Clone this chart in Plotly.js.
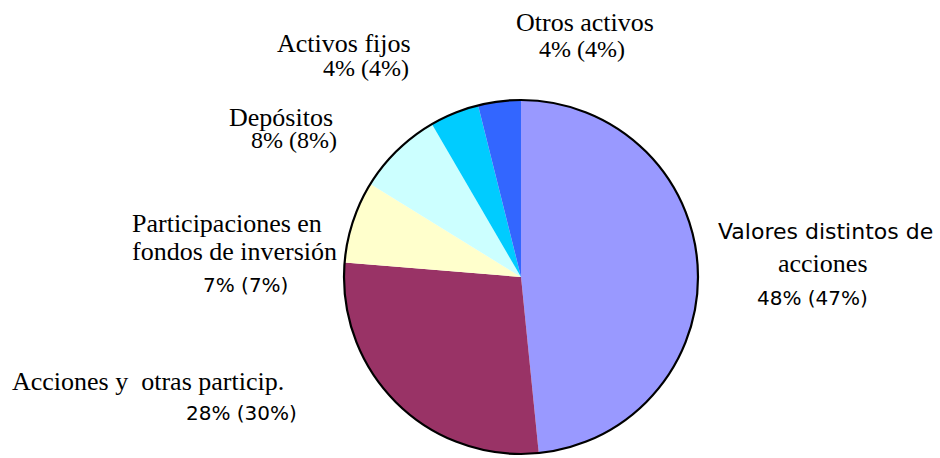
<!DOCTYPE html>
<html>
<head>
<meta charset="utf-8">
<script src="https://cdn.plot.ly/plotly-3.0.1.min.js"></script>
<style>html,body{margin:0;padding:0;background:#fff;}#chart{width:940px;height:458px;}</style>
</head>
<body>
<div id="chart"></div>
<script>
// Data (clockwise from 12 o'clock)
var categories = ["Valores distintos de acciones", "Acciones y  otras particip.", "Participaciones en fondos de inversión", "Depósitos", "Activos fijos", "Otros activos"];
var values = [48.4, 27.9, 7.5, 7.8, 4.5, 3.9];
var shareLabels = ["48% (47%)", "28% (30%)", "7% (7%)", "8% (8%)", "4% (4%)", "4% (4%)"];
var colors = ["#9999FF", "#993366", "#FFFFCC", "#CCFFFF", "#00CCFF", "#3366FF"];

var W = 940, H = 458;
var cx = 521, cy = 277, R = 177;

var trace = {
  type: "pie",
  labels: categories,
  values: values,
  sort: false,
  direction: "clockwise",
  rotation: 0,
  textinfo: "none",
  hoverinfo: "label+percent",
  marker: {colors: colors, line: {width: 0}},
  domain: {x: [(cx - R) / W, (cx + R) / W], y: [(H - cy - R) / H, (H - cy + R) / H]},
  showlegend: false
};

var SERIF = "Liberation Serif";
var SANS = "DejaVu Sans";
function ann(text, px, py, xa, fam, size) {
  return {
    text: text, xref: "paper", yref: "paper",
    x: px / W, y: 1 - py / H, xanchor: xa, yanchor: "middle",
    showarrow: false, borderpad: 0, borderwidth: 0,
    font: {family: fam, size: size, color: "#000000"}
  };
}

var annotations = [
  ann("Otros activos", 585, 23, "center", SERIF, 26),
  ann(shareLabels[5], 582, 49, "center", SERIF, 24),
  ann("Activos fijos", 411, 43, "right", SERIF, 26),
  ann(shareLabels[4], 409, 68, "right", SERIF, 24),
  ann(categories[3], 333, 117, "right", SERIF, 26),
  ann(shareLabels[3], 337, 140, "right", SERIF, 24),
  ann("Participaciones en", 132, 223, "left", SERIF, 26),
  ann("fondos de inversión", 132, 252, "left", SERIF, 26),
  ann(shareLabels[2], 245.5, 285, "center", SANS, 20),
  ann("Acciones y\u00a0 otras particip.", 12, 381, "left", SERIF, 26),
  ann(shareLabels[1], 241.5, 413, "center", SANS, 20),
  ann("Valores distintos de", 825, 231.5, "center", SANS, 22),
  ann("acciones", 822.5, 263, "center", SERIF, 26),
  ann(shareLabels[0], 812.5, 298, "center", SANS, 20)
];

var layout = {
  width: W, height: H,
  margin: {l: 0, r: 0, t: 0, b: 0},
  paper_bgcolor: "#fff",
  plot_bgcolor: "#fff",
  showlegend: false,
  font: {family: SERIF},
  annotations: annotations,
  shapes: [{
    type: "circle", xref: "paper", yref: "paper",
    x0: (cx - R) / W, x1: (cx + R) / W,
    y0: (H - cy - R) / H, y1: (H - cy + R) / H,
    line: {color: "#000", width: 2.2}, fillcolor: "rgba(0,0,0,0)"
  }]
};

Plotly.newPlot("chart", [trace], layout, {displayModeBar: false, staticPlot: true});
</script>
</body>
</html>
